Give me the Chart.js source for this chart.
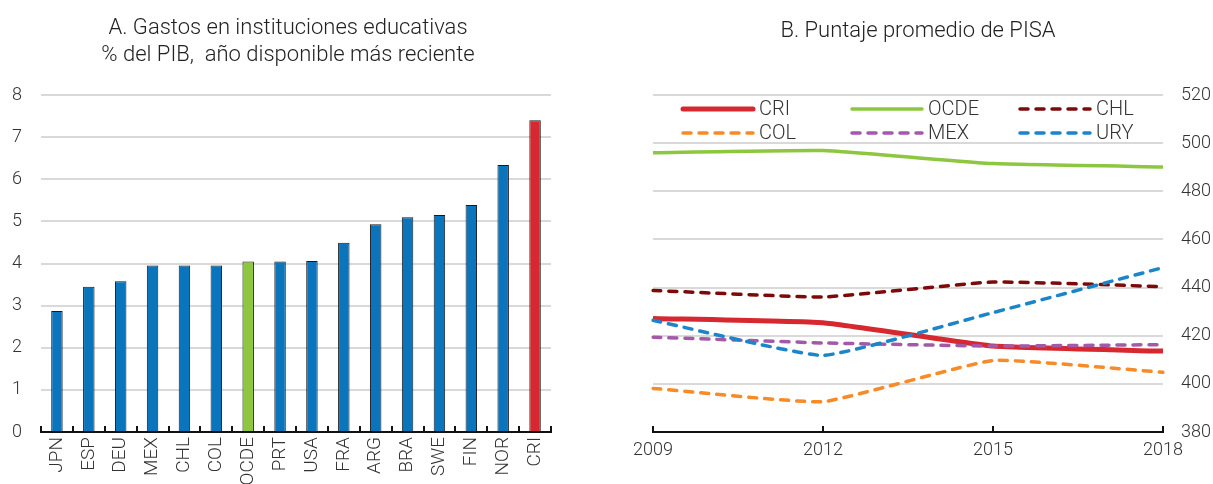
<!DOCTYPE html>
<html>
<head>
<meta charset="utf-8">
<script src="https://cdn.jsdelivr.net/npm/chart.js@4.4.0/dist/chart.umd.min.js"></script>
<style>
  body { margin: 0; background: #fff; }
  #wrap { position: relative; width: 1213px; height: 484px; overflow: hidden; }
  canvas { position: absolute; top: 0; }
</style>
</head>
<body>
<div id="wrap">
  <canvas id="gastos" width="600" height="484" style="left:0"></canvas>
  <canvas id="pisa" width="613" height="484" style="left:600px"></canvas>
</div>
<script>
// Panel A data
var countries = ['JPN', 'ESP', 'DEU', 'MEX', 'CHL', 'COL', 'OCDE', 'PRT', 'USA', 'FRA', 'ARG', 'BRA', 'SWE', 'FIN', 'NOR', 'CRI'];
var gasto = [2.87, 3.45, 3.58, 3.95, 3.95, 3.95, 4.05, 4.05, 4.06, 4.49, 4.93, 5.1, 5.15, 5.39, 6.34, 7.4];
var gastoTicks = [0, 1, 2, 3, 4, 5, 6, 7, 8];
var titleA = ['A. Gastos en instituciones educativas', '% del PIB,  año disponible más reciente'];

// Panel B data
var years = ['2009', '2012', '2015', '2018'];
var pisaCRI = [427.2, 425.4, 415.7, 413.6];
var pisaOCDE = [496.0, 496.9, 491.5, 490.1];
var pisaCHL = [438.8, 436.1, 442.3, 440.4];
var pisaCOL = [398.1, 392.6, 409.7, 404.8];
var pisaMEX = [419.4, 417.0, 415.7, 416.3];
var pisaURY = [426.4, 411.8, 429.6, 448.3];
var pisaTicks = [380, 400, 420, 440, 460, 480, 500, 520];
var titleB = ['B. Puntaje promedio de PISA'];

var FONT = "Roboto, 'DejaVu Sans Condensed', sans-serif";
var TXT = '#333';
var GRID = '#d9d9d9';

var barColors = countries.map(function (c) {
    if (c === 'OCDE') return '#8dc63f';
    if (c === 'CRI') return '#d7282f';
    return '#0a75bc';
});

// panel titles, centred at a given x
var panelTitle = {
    id: 'panelTitle',
    afterDraw: function (chart, args, opts) {
        var ctx = chart.ctx;
        ctx.save();
        ctx.fillStyle = '#222';
        ctx.font = '300 22px ' + FONT;
        ctx.textAlign = 'center';
        ctx.textBaseline = 'alphabetic';
        opts.lines.forEach(function (t, i) {
            ctx.fillText(t, opts.x, opts.y + i * 27);
        });
        ctx.restore();
    }
};

new Chart(document.getElementById('gastos'), {
    type: 'bar',
    data: {
        labels: countries,
        datasets: [{
            data: gasto,
            backgroundColor: barColors,
            borderColor: '#1a1a1a',
            borderWidth: 1,
            borderSkipped: 'bottom',
            barPercentage: 0.36,
            categoryPercentage: 1
        }]
    },
    options: {
        responsive: false,
        devicePixelRatio: 1,
        animation: false,
        layout: { padding: { left: 0, right: 49, top: 95, bottom: 0 } },
        plugins: {
            legend: { display: false },
            tooltip: { enabled: false },
            title: { display: false },
            panelTitle: { lines: titleA, x: 288, y: 34 }
        },
        scales: {
            x: {
                offset: true,
                grid: { display: true, drawOnChartArea: false, offset: true, tickLength: -6, color: '#111', lineWidth: 2 },
                border: { display: true, color: '#111', width: 2 },
                ticks: { color: TXT, font: { family: FONT, size: 19, weight: '300' }, maxRotation: 90, minRotation: 90, padding: 11, autoSkip: false },
                afterFit: function (s) { s.height = 52; }
            },
            y: {
                min: 0,
                max: 8,
                afterBuildTicks: function (s) { s.ticks = gastoTicks.map(function (v) { return { value: v }; }); },
                grid: { color: GRID, lineWidth: 2, drawTicks: false },
                border: { display: false },
                ticks: { color: TXT, font: { family: FONT, size: 18, weight: '300' }, padding: 19 },
                afterFit: function (s) { s.width = 41; }
            }
        }
    },
    plugins: [panelTitle]
});

function lineSet(label, data, color, width, dashed, order) {
    return {
        label: label,
        data: data,
        borderColor: color,
        backgroundColor: color,
        borderWidth: width,
        borderDash: dashed ? [8, 8] : [],
        borderCapStyle: dashed ? 'round' : 'butt',
        pointRadius: 0,
        tension: 0.12,
        fill: false,
        order: order
    };
}

// legend drawn in a 3 x 2 grid inside the plot
var pisaLegend = {
    id: 'pisaLegend',
    afterDraw: function (chart) {
        var ctx = chart.ctx;
        var a = chart.chartArea;
        var cols = [30, 199, 367];
        var rows = [14, 38];
        ctx.save();
        chart.data.datasets.forEach(function (ds, i) {
            var x = a.left + cols[i % 3];
            var y = a.top + rows[Math.floor(i / 3)];
            ctx.strokeStyle = ds.borderColor;
            ctx.lineWidth = ds.borderWidth;
            ctx.lineCap = 'round';
            ctx.setLineDash(ds.borderDash);
            ctx.beginPath();
            ctx.moveTo(x, y);
            ctx.lineTo(x + 70, y);
            ctx.stroke();
            ctx.setLineDash([]);
            ctx.fillStyle = TXT;
            ctx.font = '300 20px ' + FONT;
            ctx.textBaseline = 'middle';
            ctx.textAlign = 'left';
            ctx.fillText(ds.label, x + 76, y + 1);
        });
        ctx.restore();
    }
};

new Chart(document.getElementById('pisa'), {
    type: 'line',
    data: {
        labels: years,
        datasets: [
            lineSet('CRI', pisaCRI, '#d7282f', 5, false, 5),
            lineSet('OCDE', pisaOCDE, '#8dc63f', 3.5, false, 4),
            lineSet('CHL', pisaCHL, '#7d0a0a', 3.5, true, 3),
            lineSet('COL', pisaCOL, '#f68b28', 3.5, true, 2),
            lineSet('MEX', pisaMEX, '#a25aa8', 3.5, true, 1),
            lineSet('URY', pisaURY, '#1a85c8', 3.5, true, 0)
        ]
    },
    options: {
        responsive: false,
        devicePixelRatio: 1,
        animation: false,
        layout: { padding: { left: 53, right: 0, top: 95, bottom: 0 } },
        plugins: {
            legend: { display: false },
            tooltip: { enabled: false },
            title: { display: false },
            panelTitle: { lines: titleB, x: 318, y: 37 }
        },
        scales: {
            x: {
                offset: false,
                grid: { display: true, drawOnChartArea: false, tickLength: -6, color: '#111', lineWidth: 2 },
                border: { display: true, color: '#111', width: 2 },
                ticks: { color: TXT, font: { family: FONT, size: 18, weight: '300' }, maxRotation: 0, padding: 14 },
                afterFit: function (s) { s.height = 52; }
            },
            y: {
                position: 'right',
                min: 380,
                max: 520,
                afterBuildTicks: function (s) { s.ticks = pisaTicks.map(function (v) { return { value: v }; }); },
                grid: { color: GRID, lineWidth: 2, drawTicks: false },
                border: { display: false },
                ticks: { color: TXT, font: { family: FONT, size: 18, weight: '300' }, padding: 18 },
                afterFit: function (s) { s.width = 50; }
            }
        }
    },
    plugins: [pisaLegend, panelTitle]
});
</script>
</body>
</html>
